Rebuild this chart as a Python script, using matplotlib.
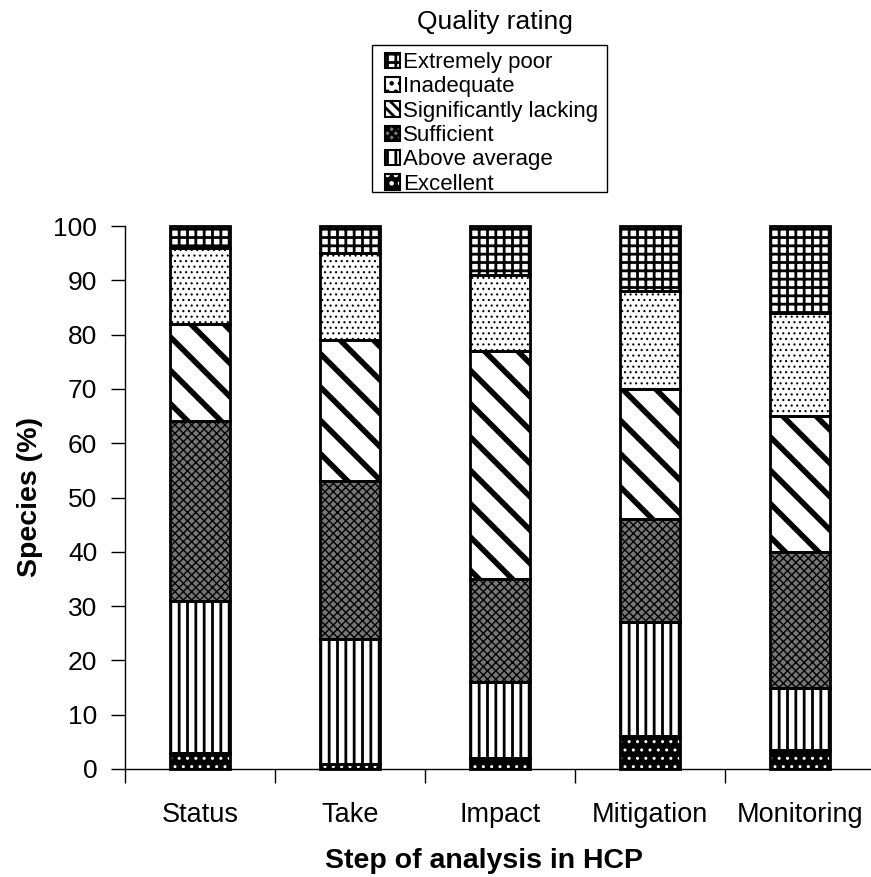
import matplotlib
matplotlib.use("Agg")
import matplotlib.pyplot as plt
from matplotlib.patches import Rectangle
from matplotlib.legend_handler import HandlerTuple
import numpy as np

plt.rcParams['font.family'] = ['Liberation Sans', 'DejaVu Sans']
plt.rcParams['hatch.linewidth'] = 2.0

categories = ["Status", "Take", "Impact", "Mitigation", "Monitoring"]
ratings = ["Excellent", "Above average", "Sufficient", "Significantly lacking",
           "Inadequate", "Extremely poor"]
excellent = [3, 1, 2, 6, 3.5]
above_average = [28, 23, 14, 21, 11.5]
sufficient = [33, 29, 19, 19, 25]
significantly_lacking = [18, 26, 42, 24, 25]
inadequate = [14, 16, 14, 18, 19]
extremely_poor = [4, 5, 9, 12, 16]
series = [excellent, above_average, sufficient, significantly_lacking,
          inadequate, extremely_poor]
yticks = [0, 10, 20, 30, 40, 50, 60, 70, 80, 90, 100]

# style: (facecolor, hatch colour, bar hatch, bar hatch lw, legend hatch)
styles = [
    ("black", "white", "..", 1.0, ".."),
    ("white", "black", "||", 2.0, "||"),
    ("#767676", "black", "xxxx", 1.0, "xxxx"),
    ("white", "black", "\\", 4.0, "\\\\\\"),
    ("white", "black", "...", 0.8, ".."),
    ("white", "black", "++", 2.0, "++"),
]

W, H = 871, 877
fig = plt.figure(figsize=(W / 100, H / 100), dpi=100)
ax = fig.add_axes([125 / W, (H - 769) / H, (W - 125) / W, (769 - 226) / H])

x = np.arange(len(categories))
width = 0.405
bottom = np.zeros(len(categories))
handles = []
for vals, (fc, hc, h, hlw, lh) in zip(series, styles):
    vals = np.asarray(vals, dtype=float)
    bars = ax.bar(x, vals, width, bottom=bottom, color=fc, edgecolor=hc,
                  hatch=h, linewidth=0, clip_on=False, zorder=2)
    for p in bars:
        if hasattr(p, "set_hatch_linewidth"):
            p.set_hatch_linewidth(hlw)
    ax.bar(x, vals, width, bottom=bottom, fill=False, edgecolor="black",
           linewidth=2, clip_on=False, zorder=3)
    bottom += vals
    hp = Rectangle((0, 0), 1, 1, facecolor=fc, edgecolor=hc, hatch=lh, linewidth=0)
    if hasattr(hp, "set_hatch_linewidth"):
        hp.set_hatch_linewidth(min(hlw, 2.0))
    op = Rectangle((0, 0), 1, 1, fill=False, edgecolor="black", linewidth=1.5)
    handles.append((hp, op))

ax.set_xlim(-0.5, (W - 200) / 150)
ax.set_ylim(0, 100)
ax.set_yticks(yticks)
ax.set_yticklabels([str(v) for v in yticks], fontsize=19)
ax.tick_params(axis='y', direction='out', length=10, width=1, pad=10, colors='black')
ax.set_xticks(x)
ax.set_xticklabels(categories, fontsize=19.5)
ax.tick_params(axis='x', which='major', length=0, pad=24)
ax.set_xticks(np.arange(-0.5, len(categories) - 0.5, 1.0), minor=True)
ax.tick_params(axis='x', which='minor', direction='out', length=10, width=1)
for s in ["top", "right"]:
    ax.spines[s].set_visible(False)
for s in ["left", "bottom"]:
    ax.spines[s].set_linewidth(1)
    ax.spines[s].set_color("black")

fig.text(30 / W, 1 - 497 / H, "Species (%)", rotation=90, ha="center",
         va="center", fontsize=20.5, fontweight="bold")
fig.text(484 / W, 1 - 861 / H, "Step of analysis in HCP", ha="center",
         va="center", fontsize=20.5, fontweight="bold")

# legend
fig.text(495 / W, 1 - 22 / H, "Quality rating", ha="center", va="center",
         fontsize=19)
frame = Rectangle((372 / W, 1 - 192 / H), (607 - 372) / W, (192 - 45) / H,
                  transform=fig.transFigure, fill=False, edgecolor="black",
                  linewidth=1)
fig.patches.append(frame)
leg = fig.legend(handles[::-1], ratings[::-1], loc="upper left",
                 bbox_to_anchor=(385 / W, 1 - 52 / H), frameon=False,
                 fontsize=16, borderpad=0, borderaxespad=0, labelspacing=0.15,
                 handlelength=0.68, handleheight=0.68, handletextpad=0.15,
                 handler_map={tuple: HandlerTuple(ndivide=1, pad=0)})

fig.savefig("out.png", dpi=100)
